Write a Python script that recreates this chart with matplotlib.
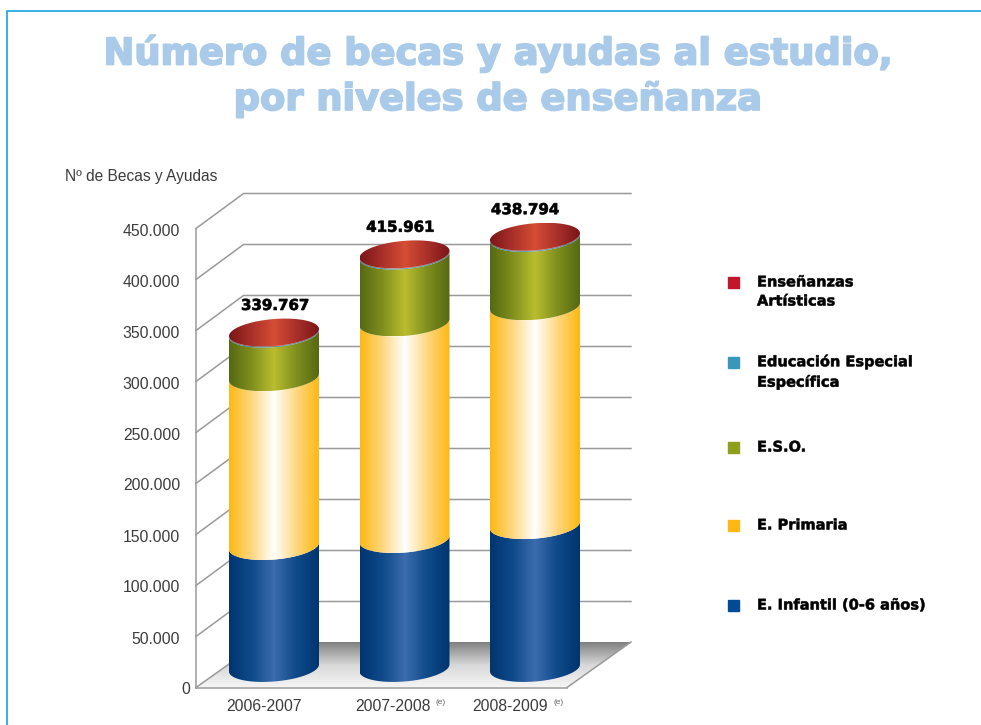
"""Numero de becas y ayudas al estudio, drawn as stacked cylinders."""

import matplotlib

matplotlib.use("Agg")

import matplotlib.patheffects as path_effects
import matplotlib.pyplot as plt
import numpy as np
from matplotlib.colors import LinearSegmentedColormap
from matplotlib.lines import Line2D
from matplotlib.patches import Rectangle
from matplotlib.path import Path
from matplotlib.transforms import Affine2D

COURSES = ["2006-2007", "2007-2008", "2008-2009"]
COURSE_NOTES = ["", "(e)", "(e)"]
TOTALS = [339767, 415961, 438794]
INFANTIL = [123500, 130600, 144700]
PRIMARIA = [171000, 219400, 221700]
ESO = [44117, 67661, 69094]
ESPECIAL = [800, 900, 900]
ARTISTICAS = [350, 400, 400]
Y_TICKS = [0, 50000, 100000, 150000, 200000, 250000, 300000, 350000, 400000, 450000]
LEGEND_LABELS = ["Enseñanzas\nArtísticas", "Educación Especial\nEspecífica", "E.S.O.", "E. Primaria", "E. Infantil (0-6 años)"]
LEGEND_COLORS = ["#C1172C", "#3A97B9", "#8E9F1C", "#FDB813", "#004B93"]

WIDTH, HEIGHT = 981, 725
GRID_COLOR = "#9A9A9A"
TEXT_COLOR = "#3C3C3C"
HEAVY = "DejaVu Sans"
LIGHT = "Liberation Sans"

# pixel scale of the axes: one course = 130.5 px, 1000 becas = 1.02 px
PX_X = 1 / 130.5
PX_Y = 1000 / 1.02
BAR_SCALE = 0.968
BAR_BASE = 19.5 * PX_Y
BAR_A = 45 * PX_X
BAR_B = 13.5 * PX_Y
BAR_TILT = 3.5 * PX_Y


def ramp(edge, *inner):
    """Symmetric horizontal gradient, dark at the edges of the cylinder."""

    colors = [edge, *inner, *reversed(inner[:-1]), edge]
    return LinearSegmentedColormap.from_list("ramp", colors)


BLUE = ramp("#00356F", "#0F4A8A", "#3C6CAD")
ORANGE = ramp("#FDB813", "#FED77F", "#FFFFFF")
GREEN = ramp("#566812", "#7F8F1E", "#BABD2E")
TEAL = ramp("#2C7F9F", "#4FA8C8")
RED = ramp("#7A1518", "#A9302A", "#D54D34")


def arc(center, y, start, stop):
    """Points of the tilted ellipse rim at height y."""

    t = np.linspace(start, stop, 80)
    return np.column_stack(
        [center + BAR_A * np.cos(t), y + BAR_B * np.sin(t) + BAR_TILT * np.cos(t)]
    )


def fill_gradient(ax, outline, cmap, zorder, vertical=False):
    """Paint a gradient image clipped to a closed outline in data coords."""

    gradient = np.linspace(0, 1, 256)
    gradient = gradient.reshape(-1, 1) if vertical else gradient.reshape(1, -1)
    extent = [outline[:, 0].min(), outline[:, 0].max(), outline[:, 1].min(), outline[:, 1].max()]
    image = ax.imshow(
        gradient, cmap=cmap, extent=extent, aspect="auto", origin="lower",
        interpolation="bilinear", zorder=zorder,
    )
    # the depth of the chart runs past the axes box, so clip to the figure
    image.set_clip_box(ax.figure.bbox)
    image.set_clip_path(Path(np.vstack([outline, outline[:1]])), transform=ax.transData)


def draw_cylinder(ax, center, segments):
    """Stack the gradient bands of one course and close it with the red top."""

    bottom = BAR_BASE
    for value, cmap in segments:
        top = bottom + value * BAR_SCALE
        lower = arc(center, bottom, np.pi, 2 * np.pi)
        upper = arc(center, top, 2 * np.pi, np.pi)
        fill_gradient(ax, np.vstack([lower, upper]), cmap, 4)
        bottom = top
    fill_gradient(ax, arc(center, bottom, 0, 2 * np.pi), RED, 5)
    return bottom


def heavy_text(width, color):
    """Thicken the bold face towards the black weight of the original."""

    return [path_effects.Stroke(linewidth=width, foreground=color)]


fig = plt.figure(figsize=(WIDTH / 100, HEIGHT / 100), dpi=100, facecolor="white")
ax = fig.add_axes([196 / WIDTH, 1 - 687.5 / HEIGHT, 371 / WIDTH, 459 / HEIGHT])
x_min, x_max = -78 * PX_X, 293 * PX_X
ax.set_xlim(x_min, x_max)
ax.set_ylim(0, 450000)
ax.patch.set_visible(False)
for side in ["top", "right"]:
    ax.spines[side].set_visible(False)
for side in ["left", "bottom"]:
    ax.spines[side].set_color(GRID_COLOR)
    ax.spines[side].set_linewidth(1.1)

# floor and back wall
floor_dx, floor_dy = 64 * PX_X, 45.5 * PX_Y
wall_dx, wall_dy = 47.5 * PX_X, 35 * PX_Y
floor = np.array(
    [[x_min, 0], [x_max, 0], [x_max + floor_dx, floor_dy], [x_min + floor_dx, floor_dy]]
)
floor_cmap = LinearSegmentedColormap.from_list("floor", ["#F6F6F6", "#D8D8D8", "#808080"])
fill_gradient(ax, floor, floor_cmap, 1, vertical=True)
ax.plot(
    [x_max, x_max + floor_dx], [0, floor_dy], color=GRID_COLOR, lw=1.1, clip_on=False, zorder=2
)
ax.plot([x_min, x_min + floor_dx], [0, floor_dy], color=GRID_COLOR, lw=1.1, clip_on=False, zorder=2)
for tick in Y_TICKS[1:]:
    ax.plot(
        [x_min, x_min + wall_dx, x_max + floor_dx],
        [tick, tick + wall_dy, tick + wall_dy],
        color=GRID_COLOR, lw=1.1, clip_on=False, zorder=2,
    )

# cylinders
for i, total in enumerate(TOTALS):
    segments = [
        (INFANTIL[i], BLUE),
        (PRIMARIA[i], ORANGE),
        (ESO[i], GREEN),
        (ESPECIAL[i], TEAL),
        (ARTISTICAS[i], RED),
    ]
    top = draw_cylinder(ax, i, segments)
    ax.annotate(
        f"{total:,}".replace(",", "."), xy=(i, top), xytext=(1 - 4 * i, 19.5),
        textcoords="offset points", ha="center", va="center", annotation_clip=False,
        family=HEAVY, fontweight="bold", fontsize=10.8, color="black", zorder=6,
        path_effects=heavy_text(0.5, "black"),
    )

ax.set_xlim(x_min, x_max)
ax.set_ylim(0, 450000)

# axes text
ax.set_yticks(Y_TICKS)
ax.set_yticklabels([f"{tick:,}".replace(",", ".") for tick in Y_TICKS])
ax.tick_params(axis="y", length=0, pad=11.5, labelsize=11.3, labelcolor=TEXT_COLOR)
for label in ax.get_yticklabels():
    label.set_family(LIGHT)
    label.set_transform(label.get_transform() + Affine2D().translate(0, -1))
ax.get_yticklabels()[0].set_transform(
    ax.get_yticklabels()[0].get_transform() + Affine2D().translate(10, 0)
)

tick_positions = [-10 * PX_X, 118.5 * PX_X, 236.5 * PX_X]
ax.set_xticks(tick_positions)
ax.set_xticklabels(COURSES)
ax.tick_params(axis="x", length=0, pad=8, labelsize=11.3, labelcolor=TEXT_COLOR)
for label in ax.get_xticklabels():
    label.set_family(LIGHT)
for position, note in zip(tick_positions, COURSE_NOTES):
    if note:
        ax.annotate(
            note, xy=(position, 0), xytext=(31, -11), textcoords="offset points",
            ha="left", va="center", family=LIGHT, fontsize=6, color="#666666",
            annotation_clip=False,
        )


def fig_xy(x, y):
    """Figure fraction of a pixel position measured from the top left."""

    return x / WIDTH, 1 - y / HEIGHT


# page furniture
title_color = "#A9CAE8"
for text, baseline in [("Número de becas y ayudas al estudio,", 64.5), ("por niveles de enseñanza", 110)]:
    fig.text(
        *fig_xy(498, baseline), text, ha="center", va="baseline",
        family=HEAVY, fontweight="bold", fontsize=26.5, color=title_color,
        path_effects=heavy_text(1.3, title_color),
    )
fig.text(
    *fig_xy(65, 177), "Nº de Becas y Ayudas", ha="left", va="center",
    family=LIGHT, fontsize=11.2, color=TEXT_COLOR,
)
fig.add_artist(
    Line2D(
        [7 / WIDTH, 7 / WIDTH, 1], [0, 1 - 10.5 / HEIGHT, 1 - 10.5 / HEIGHT],
        color="#29A9E0", lw=1.3, transform=fig.transFigure,
    )
)

# legend
legend_y = [291.5, 371.5, 447, 525, 605]
for label, color, y in zip(LEGEND_LABELS, LEGEND_COLORS, legend_y):
    marker_y = y - 9.5 if "\n" in label else y
    x0, y0 = fig_xy(728, marker_y + 5.5)
    fig.add_artist(
        Rectangle((x0, y0), 11 / WIDTH, 11 / HEIGHT, color=color, transform=fig.transFigure)
    )
    fig.text(
        *fig_xy(757, y), label, ha="left", va="center", family=HEAVY, fontweight="bold",
        fontsize=10.5, color="black", linespacing=1.34,
        path_effects=heavy_text(0.4, "black"),
    )

fig.savefig("out.png", dpi=100)
plt.close(fig)
